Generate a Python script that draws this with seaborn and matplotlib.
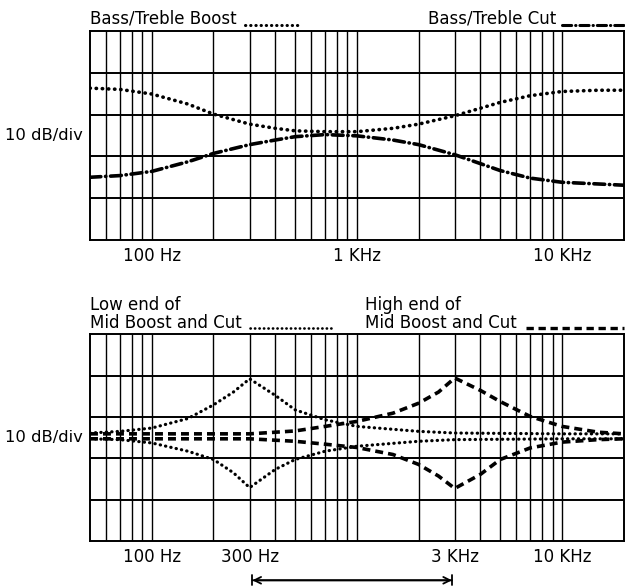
import numpy as np
import pandas as pd
import matplotlib.pyplot as plt
import seaborn as sns
from matplotlib.lines import Line2D

# frequencies (Hz) where curve values were read
freq_top = [50, 70, 100, 150, 200, 300, 400, 500, 700, 1000, 1500, 2000, 3000, 5000, 7000, 10000, 15000, 20000]
boost_top = [11.3, 11.0, 9.9, 7.5, 5.1, 2.7, 1.7, 1.1, 0.9, 0.9, 1.7, 2.7, 4.7, 7.9, 9.5, 10.5, 10.8, 10.8]
cut_top = [-10.0, -9.6, -8.6, -6.3, -4.3, -2.2, -1.1, -0.3, 0.2, -0.1, -1.1, -2.2, -4.6, -8.4, -10.2, -11.2, -11.6, -11.9]

freq_low = [50, 70, 100, 150, 200, 250, 300, 400, 500, 700, 1000, 2000, 3000, 10000, 20000]
low_boost = [1.1, 1.5, 2.3, 4.6, 7.9, 11.0, 14.2, 10.2, 6.7, 4.3, 2.7, 1.5, 1.1, 0.9, 0.9]
low_cut = [-0.3, -0.5, -1.3, -3.3, -5.3, -8.5, -12.1, -7.7, -5.3, -3.3, -2.1, -0.9, -0.5, -0.3, -0.3]

freq_high = [50, 300, 500, 700, 1000, 1500, 2000, 2500, 3000, 4000, 5000, 7000, 10000, 15000, 20000]
high_boost = [0.9, 0.9, 1.6, 2.7, 3.9, 5.9, 8.3, 11.0, 14.4, 11.4, 8.7, 5.1, 2.7, 1.3, 0.9]
high_cut = [-0.3, -0.3, -0.9, -1.6, -2.4, -4.1, -6.5, -9.3, -12.3, -8.9, -5.3, -2.5, -1.1, -0.5, -0.3]

grid_freqs = [60, 70, 80, 90, 100, 200, 300, 400, 500, 600, 700, 800, 900,
              1000, 2000, 3000, 4000, 5000, 6000, 7000, 8000, 9000, 10000]
top_ticks = [100, 1000, 10000]
top_labels = ['100 Hz', '1 KHz', '10 KHz']
bot_ticks = [100, 300, 3000, 10000]
bot_labels = ['100 Hz', '300 Hz', '3 KHz', '10 KHz']

sns.set_style('white')
plt.rcParams['font.family'] = ['DejaVu Sans']
plt.rcParams['font.size'] = 12
plt.rcParams['text.color'] = 'black'
plt.rcParams['axes.labelcolor'] = 'black'
plt.rcParams['xtick.color'] = 'black'
plt.rcParams['ytick.color'] = 'black'

dotted = (0, (0.1, 1.6))
dashdot = (0, (3.0, 1.3, 0.1, 1.3))
dashed = (0, (2.2, 1.4))

fig = plt.figure(figsize=(6.25, 5.86), dpi=100)
ax1 = fig.add_axes([0.144, 0.5904, 0.854, 0.357])
ax2 = fig.add_axes([0.144, 0.0768, 0.854, 0.353])


def style_axis(ax, ticks, labels):
    ax.set_xscale('log')
    ax.set_xlim(50, 20000)
    ax.set_ylim(-25, 25)
    ax.set_yticks([-15, -5, 5, 15])
    ax.set_yticklabels([])
    ax.set_xticks(ticks)
    ax.set_xticklabels(labels)
    ax.set_xticks(grid_freqs, minor=True)
    ax.xaxis.set_minor_formatter(plt.NullFormatter())
    ax.tick_params(which='both', length=0, labelsize=12)
    ax.tick_params(axis='x', pad=5)
    ax.tick_params(axis='y', pad=0)
    ax.grid(which='both', axis='x', color='black', linewidth=1.0)
    ax.grid(which='major', axis='y', color='black', linewidth=1.4)
    for s in ax.spines.values():
        s.set_color('black')
        s.set_linewidth(1.4)
    ax.set_xlabel('')
    ax.set_ylabel('10 dB/div', rotation=0, ha='right', va='center', labelpad=5, fontsize=11.8)


def sample(ax, x0, x1, y, ls, lw, cap='round'):
    ax.add_line(Line2D([x0, x1], [y, y], transform=ax.transAxes, clip_on=False,
                       color='black', linestyle=ls, linewidth=lw,
                       dash_capstyle=cap))


# top panel
top = pd.DataFrame({'freq': freq_top, 'boost': boost_top, 'cut': cut_top})
sns.lineplot(data=top, x='freq', y='boost', ax=ax1, color='black', linewidth=2.6,
             linestyle=dotted, dash_capstyle='round')
sns.lineplot(data=top, x='freq', y='cut', ax=ax1, color='black', linewidth=2.6,
             linestyle=dashdot, dash_capstyle='round')
style_axis(ax1, top_ticks, top_labels)
ax1.text(0.0, 1.015, 'Bass/Treble Boost', transform=ax1.transAxes, ha='left', va='bottom')
sample(ax1, 0.29, 0.395, 1.03, dotted, 2.2)
ax1.text(0.873, 1.015, 'Bass/Treble Cut', transform=ax1.transAxes, ha='right', va='bottom')
sample(ax1, 0.885, 1.0, 1.03, dashdot, 2.2)

# bottom panel
low = pd.DataFrame({'freq': freq_low, 'boost': low_boost, 'cut': low_cut})
high = pd.DataFrame({'freq': freq_high, 'boost': high_boost, 'cut': high_cut})
for col in ['boost', 'cut']:
    sns.lineplot(data=low, x='freq', y=col, ax=ax2, color='black', linewidth=2.3,
                 linestyle=dotted, dash_capstyle='round')
    sns.lineplot(data=high, x='freq', y=col, ax=ax2, color='black', linewidth=2.6,
                 linestyle=dashed, dash_capstyle='butt')
style_axis(ax2, bot_ticks, bot_labels)
ax2.text(0.0, 1.01, 'Low end of\nMid Boost and Cut', transform=ax2.transAxes,
         ha='left', va='bottom', linespacing=1.0)
sample(ax2, 0.3, 0.451, 1.03, dotted, 1.9)
ax2.text(0.515, 1.01, 'High end of\nMid Boost and Cut', transform=ax2.transAxes,
         ha='left', va='bottom', linespacing=1.0)
sample(ax2, 0.816, 1.0, 1.03, dashed, 2.4, cap='butt')

# range arrow under the mid band
ax2.annotate('', xy=(300, -0.19), xytext=(3000, -0.19),
             xycoords=('data', 'axes fraction'), textcoords=('data', 'axes fraction'),
             arrowprops=dict(arrowstyle='<->', color='black', lw=1.3))
ax2.annotate('', xy=(300, -0.19), xytext=(3000, -0.19),
             xycoords=('data', 'axes fraction'), textcoords=('data', 'axes fraction'),
             arrowprops=dict(arrowstyle='|-|, widthA=0.3, widthB=0.3', color='black', lw=1.3))

fig.savefig('out.png', dpi=100)
